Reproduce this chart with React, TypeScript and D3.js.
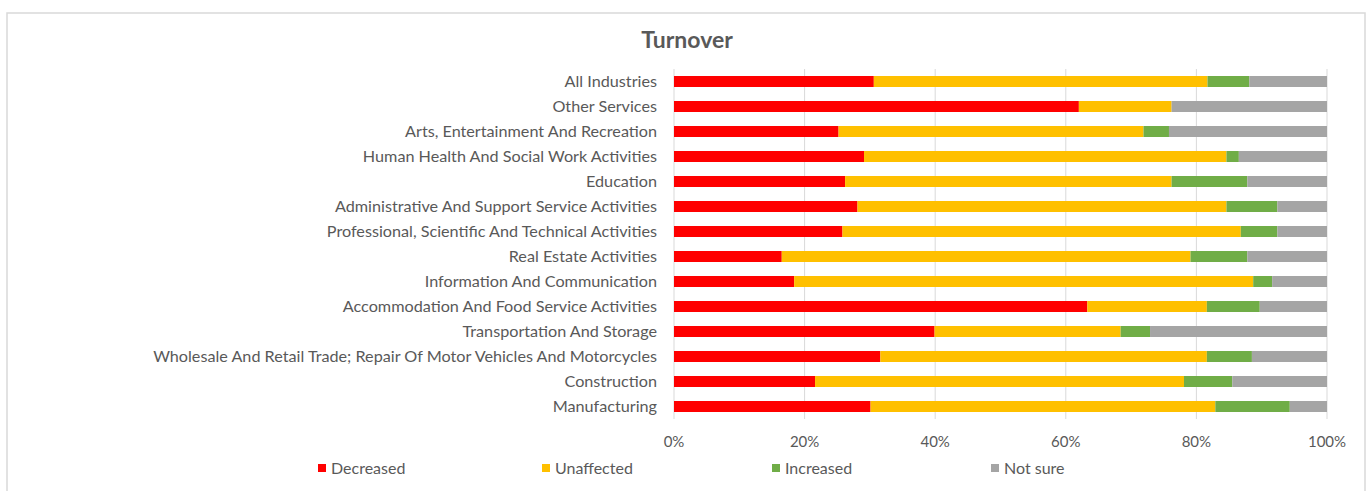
import React, { useEffect, useRef } from 'react';
import * as d3 from 'd3';

// categories, top to bottom
const categories: string[] = [
  'All Industries',
  'Other Services',
  'Arts, Entertainment And Recreation',
  'Human Health And Social Work Activities',
  'Education',
  'Administrative And Support Service Activities',
  'Professional, Scientific And Technical Activities',
  'Real Estate Activities',
  'Information And Communication',
  'Accommodation And Food Service Activities',
  'Transportation And Storage',
  'Wholesale And Retail Trade; Repair Of Motor Vehicles And Motorcycles',
  'Construction',
  'Manufacturing',
];

const seriesNames: string[] = ['Decreased', 'Unaffected', 'Increased', 'Not sure'];
const seriesColors: string[] = ['#ff0000', '#ffc000', '#70ad47', '#a5a5a5'];

// percentages, same order as categories
const decreased: number[] = [30.6, 62.0, 25.2, 29.1, 26.2, 28.1, 25.8, 16.5, 18.4, 63.3, 39.9, 31.6, 21.6, 30.1];
const unaffected: number[] = [51.1, 14.2, 46.7, 55.5, 50.0, 56.5, 61.0, 62.6, 70.3, 18.3, 28.5, 50.0, 56.5, 52.8];
const increased: number[] = [6.4, 0, 3.9, 1.9, 11.6, 7.8, 5.6, 8.7, 2.9, 8.1, 4.5, 6.9, 7.4, 11.4];
const notSure: number[] = [11.9, 23.8, 24.2, 13.5, 12.2, 7.6, 7.6, 12.2, 8.4, 10.3, 27.1, 11.5, 14.5, 5.7];

const xTicks: number[] = [0, 20, 40, 60, 80, 100];

const W = 1369;
const H = 491;
const FONT = 'Lato, Carlito, "Open Sans", sans-serif';
const TEXT = '#595959';

const App: React.FC = () => {
  const svgRef = useRef<SVGSVGElement | null>(null);

  useEffect(() => {
    if (!svgRef.current) return;
    const svg = d3.select(svgRef.current);
    svg.selectAll('*').remove();

    const margin = { top: 69, left: 674, right: 42, bottom: 72 };

    const rows = categories.map((c, i) => ({
      category: c,
      Decreased: decreased[i],
      Unaffected: unaffected[i],
      Increased: increased[i],
      'Not sure': notSure[i],
    }));

    const stacked = d3.stack<any>().keys(seriesNames)(rows);

    const x = d3.scaleLinear().domain([0, 100]).range([margin.left, W - margin.right]);
    const y = d3
      .scaleBand<string>()
      .domain(categories)
      .range([margin.top, H - margin.bottom])
      .paddingInner(0.56)
      .paddingOuter(0.28);

    // chart border
    svg
      .append('rect')
      .attr('x', 7)
      .attr('y', 13)
      .attr('width', 1358)
      .attr('height', 520)
      .attr('fill', '#fff')
      .attr('stroke', '#d9d9d9')
      .attr('stroke-width', 1.5);

    // title
    svg
      .append('text')
      .attr('x', 687)
      .attr('y', 48)
      .attr('text-anchor', 'middle')
      .attr('font-family', FONT)
      .attr('font-size', 23)
      .attr('font-weight', 'bold')
      .attr('fill', TEXT)
      .text('Turnover');

    // gridlines
    svg
      .append('g')
      .selectAll('line')
      .data(xTicks)
      .join('line')
      .attr('x1', (d) => x(d))
      .attr('x2', (d) => x(d))
      .attr('y1', margin.top)
      .attr('y2', H - margin.bottom)
      .attr('stroke', '#d9d9d9')
      .attr('stroke-width', 1);

    // bars
    svg
      .append('g')
      .selectAll('g')
      .data(stacked)
      .join('g')
      .attr('fill', (_d, i) => seriesColors[i])
      .selectAll('rect')
      .data((d) => d)
      .join('rect')
      .attr('x', (d) => x(d[0]))
      .attr('width', (d) => Math.max(0, x(d[1]) - x(d[0])))
      .attr('y', (d) => y(d.data.category)!)
      .attr('height', y.bandwidth());

    // category labels
    svg
      .append('g')
      .selectAll('text')
      .data(categories)
      .join('text')
      .attr('x', margin.left - 17)
      .attr('y', (d) => y(d)! + y.bandwidth() / 2)
      .attr('dy', '0.35em')
      .attr('text-anchor', 'end')
      .attr('font-family', FONT)
      .attr('font-size', 16.2)
      .attr('fill', TEXT)
      .text((d) => d);

    // x tick labels
    svg
      .append('g')
      .selectAll('text')
      .data(xTicks)
      .join('text')
      .attr('x', (d) => x(d))
      .attr('y', 442)
      .attr('dy', '0.35em')
      .attr('text-anchor', 'middle')
      .attr('font-family', FONT)
      .attr('font-size', 15)
      .attr('fill', TEXT)
      .text((d) => `${d}%`);

    // legend
    const legendX = [318, 542, 772, 991];
    const lg = svg
      .append('g')
      .selectAll('g')
      .data(seriesNames)
      .join('g')
      .attr('transform', (_d, i) => `translate(${legendX[i]},468)`);
    lg.append('rect')
      .attr('x', 0)
      .attr('y', -4)
      .attr('width', 8)
      .attr('height', 8)
      .attr('fill', (_d, i) => seriesColors[i]);
    lg.append('text')
      .attr('x', 13)
      .attr('y', 0)
      .attr('dy', '0.35em')
      .attr('font-family', FONT)
      .attr('font-size', 16)
      .attr('fill', TEXT)
      .text((d) => d);
  }, []);

  return (
    <svg
      ref={svgRef}
      width={W}
      height={H}
      style={{ position: 'absolute', left: 0, top: 0, background: '#fff' }}
    />
  );
};

export default App;
